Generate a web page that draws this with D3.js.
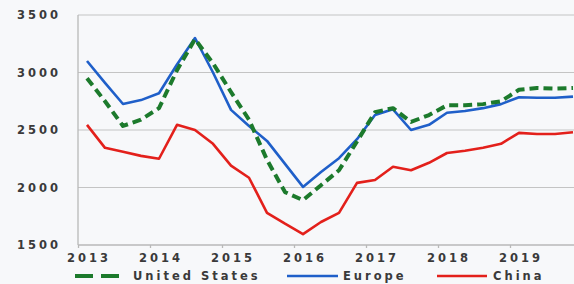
<!DOCTYPE html>
<html lang="en">
<head>
<meta charset="utf-8">
<style type="text/css">
  body { margin: 0; background: #f7f8fa; }
  text {
    font-family: "DejaVu Sans", sans-serif;
    font-weight: bold;
    font-size: 11.5px;
    fill: #3a3a3a;
    letter-spacing: 3px;
  }
  .grid line { stroke: #c4c4c4; stroke-width: 1.2px; }
  .axis path, .axis line { stroke: #b8b8b8; stroke-width: 1.3px; }
  .series { fill: none; stroke-linejoin: round; }
</style>
<script src="https://cdn.jsdelivr.net/npm/d3@7"></script>
</head>
<body>
<div id="chart"></div>
<script>
// quarterly, 2013 Q1 .. 2019 Q4
var years = ["2013", "2014", "2015", "2016", "2017", "2018", "2019"];
var yTicks = [1500, 2000, 2500, 3000, 3500];

var unitedStates = [2950, 2750, 2535, 2590, 2690, 3020, 3290, 3080, 2830, 2590, 2240, 1960, 1890, 2020,
                    2150, 2400, 2655, 2690, 2570, 2630, 2715, 2715, 2725, 2750, 2850, 2865, 2860, 2865];
var europe = [3100, 2910, 2726, 2760, 2820, 3070, 3300, 3000, 2675, 2535, 2405, 2205, 2005, 2135,
              2255, 2420, 2630, 2680, 2500, 2545, 2650, 2665, 2690, 2725, 2785, 2780, 2780, 2790];
var china = [2545, 2345, 2310, 2275, 2250, 2545, 2500, 2380, 2190, 2085, 1780, 1685, 1595, 1700,
             1780, 2040, 2065, 2180, 2150, 2215, 2300, 2320, 2345, 2380, 2475, 2465, 2465, 2480];

var seriesNames = ["United States", "Europe", "China"];
var seriesColors = ["#1c7a2c", "#1f5fc9", "#e3201b"];

var width = 574, height = 284;
var plotLeft = 78, plotTop = 15, plotBottom = 245;

var svg = d3.select("#chart").append("svg")
    .attr("width", width)
    .attr("height", height);

var x = d3.scaleLinear().domain([-0.5, 27.5]).range([plotLeft, 582]);
var y = d3.scaleLinear().domain([1500, 3500]).range([plotBottom, plotTop]);

// horizontal gridlines
svg.append("g").attr("class", "grid")
  .selectAll("line").data(yTicks.slice(1)).enter().append("line")
    .attr("x1", plotLeft).attr("x2", width)
    .attr("y1", function(d) { return y(d); })
    .attr("y2", function(d) { return y(d); });

// y labels
svg.append("g").selectAll("text").data(yTicks).enter().append("text")
    .attr("x", 61)
    .attr("y", function(d) { return y(d); })
    .attr("dy", "0.36em")
    .style("text-anchor", "end")
    .text(function(d) { return d; });

// axes lines
svg.append("g").attr("class", "axis")
  .append("line").attr("x1", plotLeft).attr("x2", plotLeft).attr("y1", plotTop).attr("y2", plotBottom);

var xAxis = d3.axisBottom(x)
    .tickValues(d3.range(years.length + 1).map(function(i) { return i * 4 - 0.5; }))
    .tickSize(3)
    .tickFormat("");
svg.append("g").attr("class", "axis")
    .attr("transform", "translate(0," + plotBottom + ")")
    .call(xAxis)
    .select(".domain").attr("d", "M" + plotLeft + ",0H" + width);

// year labels (at Q1 of each year)
svg.append("g").selectAll("text").data(years).enter().append("text")
    .attr("x", function(d, i) { return x(i * 4) + 2; })
    .attr("y", 258)
    .attr("dy", "0.36em")
    .style("text-anchor", "middle")
    .text(function(d) { return d; });

var line = d3.line()
    .x(function(d, i) { return x(i); })
    .y(function(d) { return y(d); });

var allSeries = [china, europe, unitedStates];
var order = [2, 1, 0];
allSeries.forEach(function(s, k) {
  var idx = order[k];
  var p = svg.append("path")
      .datum(s)
      .attr("class", "series")
      .attr("d", line)
      .attr("stroke", seriesColors[idx])
      .attr("stroke-width", idx == 0 ? 4 : 2.6);
  if (idx == 0) p.attr("stroke-dasharray", "9,5");
});

// legend
var legend = [
  {x1: 75, x2: 119, tx: 133},
  {x1: 287, x2: 338, tx: 343},
  {x1: 437, x2: 487, tx: 493}
];
legend.forEach(function(l, i) {
  var ln = svg.append("line")
      .attr("x1", l.x1).attr("x2", l.x2)
      .attr("y1", 276).attr("y2", 276)
      .attr("stroke", seriesColors[i])
      .attr("stroke-width", i == 0 ? 4 : 2.6);
  if (i == 0) ln.attr("stroke-dasharray", "18,8");
  svg.append("text")
      .attr("x", l.tx)
      .attr("y", 276)
      .attr("dy", "0.36em")
      .text(seriesNames[i]);
});
</script>
</body>
</html>
